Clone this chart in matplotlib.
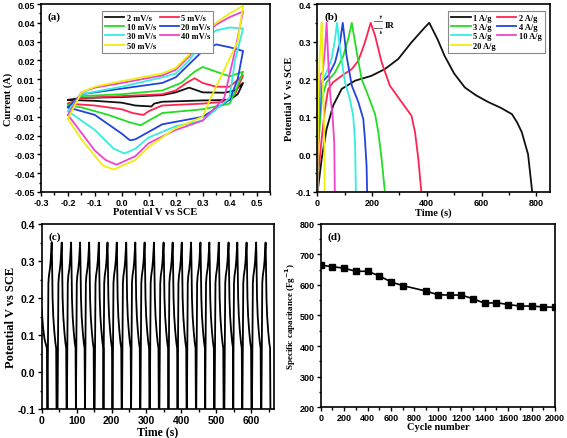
import numpy as np
import matplotlib
matplotlib.use("Agg")
import matplotlib.pyplot as plt
from matplotlib.ticker import MultipleLocator

SERIF = "Liberation Serif"
SANS = "Liberation Sans"

# ---- (a) cyclic voltammetry, forward and reverse sweeps (V, A)
cv_labels = ["2 mV/s", "5 mV/s", "10 mV/s", "20 mV/s", "30 mV/s", "40 mV/s", "50 mV/s"]
cv_colors = ["#111111", "#ff2450", "#22dd22", "#2244dd", "#33eedd", "#ee44cc", "#eeee11"]
cv_fwd_v = [
    [-0.2, -0.15, 0.0, 0.15, 0.2, 0.25, 0.28, 0.3, 0.38, 0.42, 0.45],
    [-0.2, -0.15, 0.0, 0.15, 0.2, 0.24, 0.27, 0.3, 0.35, 0.4, 0.45],
    [-0.2, -0.15, 0.0, 0.15, 0.22, 0.27, 0.3, 0.35, 0.4, 0.45],
    [-0.2, -0.15, 0.0, 0.15, 0.2, 0.25, 0.3, 0.35, 0.4, 0.45],
    [-0.2, -0.15, 0.0, 0.15, 0.2, 0.25, 0.3, 0.35, 0.4, 0.45],
    [-0.2, -0.15, -0.1, 0.0, 0.15, 0.2, 0.25, 0.3, 0.35, 0.4, 0.45],
    [-0.2, -0.15, -0.1, 0.0, 0.15, 0.2, 0.25, 0.3, 0.35, 0.4, 0.45],
]
cv_fwd_i = [
    [-0.001, 0.0, 0.0005, 0.0015, 0.003, 0.0055, 0.004, 0.003, 0.0028, 0.004, 0.008],
    [-0.003, 0.0, 0.001, 0.002, 0.004, 0.008, 0.0105, 0.008, 0.006, 0.006, 0.012],
    [-0.004, 0.001, 0.002, 0.004, 0.008, 0.014, 0.0165, 0.014, 0.0115, 0.014],
    [-0.005, 0.002, 0.005, 0.008, 0.011, 0.018, 0.025, 0.0285, 0.027, 0.025],
    [-0.007, 0.002, 0.006, 0.011, 0.013, 0.02, 0.03, 0.036, 0.0375, 0.037],
    [-0.009, 0.003, 0.0055, 0.008, 0.012, 0.015, 0.022, 0.032, 0.039, 0.043, 0.046],
    [-0.011, 0.003, 0.006, 0.009, 0.013, 0.016, 0.023, 0.033, 0.04, 0.045, 0.049],
]
cv_rev_v = [
    [0.45, 0.43, 0.4, 0.3, 0.15, 0.12, 0.11, 0.05, 0.0, -0.1, -0.2],
    [0.45, 0.42, 0.38, 0.3, 0.15, 0.1, 0.08, 0.04, 0.0, -0.1, -0.2],
    [0.45, 0.42, 0.4, 0.3, 0.15, 0.1, 0.07, 0.03, -0.05, -0.15, -0.2],
    [0.45, 0.43, 0.4, 0.3, 0.15, 0.1, 0.05, 0.03, 0.0, -0.1, -0.2],
    [0.45, 0.42, 0.4, 0.3, 0.2, 0.1, 0.05, 0.01, -0.03, -0.1, -0.2],
    [0.45, 0.42, 0.38, 0.3, 0.2, 0.1, 0.05, -0.02, -0.06, -0.1, -0.2],
    [0.45, 0.43, 0.33, 0.3, 0.2, 0.1, 0.05, -0.03, -0.07, -0.15, -0.2],
]
cv_rev_i = [
    [0.008, 0.002, -0.001, -0.0013, -0.002, -0.003, -0.0045, -0.004, -0.0025, -0.0015, -0.001],
    [0.012, 0.002, -0.002, -0.003, -0.004, -0.007, -0.009, -0.008, -0.006, -0.004, -0.003],
    [0.014, 0.003, -0.003, -0.006, -0.008, -0.012, -0.0145, -0.013, -0.009, -0.005, -0.004],
    [0.025, 0.01, -0.001, -0.01, -0.014, -0.018, -0.022, -0.0225, -0.019, -0.009, -0.005],
    [0.037, 0.02, 0.0, -0.012, -0.015, -0.021, -0.027, -0.0295, -0.027, -0.017, -0.007],
    [0.046, 0.025, 0.0, -0.012, -0.017, -0.024, -0.031, -0.0355, -0.033, -0.028, -0.009],
    [0.049, 0.03, 0.0, -0.01, -0.016, -0.026, -0.033, -0.038, -0.036, -0.022, -0.011],
]

# ---- (b) galvanostatic charge/discharge (s, V)
gcd_labels = ["1 A/g", "2 A/g", "3 A/g", "4 A/g", "5 A/g", "10 A/g", "20 A/g"]
gcd_colors = ["#111111", "#ff2450", "#22dd22", "#2244dd", "#33eedd", "#ee44cc", "#eeee11"]
gcd_t = [
    [0, 4, 16, 34, 58, 89, 138, 198, 247, 296, 344, 393, 409, 440, 465, 500, 539, 580, 625, 670, 711, 730, 747, 770, 785],
    [0, 4, 16, 28, 40, 58, 89, 126, 150, 174, 195, 211, 235, 265, 308, 344, 357, 369, 380],
    [0, 4, 16, 34, 65, 95, 113, 126, 144, 162, 186, 211, 223, 235, 247],
    [0, 4, 16, 40, 65, 83, 93, 107, 126, 150, 168, 174, 180, 182],
    [0, 4, 13, 34, 52, 65, 72, 83, 101, 119, 131, 138, 141],
    [0, 5, 10, 20, 28, 34, 40, 48, 55, 62, 64],
    [0, 4, 8, 12, 16, 19, 22, 25, 27],
]
gcd_v = [
    [-0.1, -0.083, -0.012, 0.068, 0.13, 0.174, 0.196, 0.209, 0.227, 0.254, 0.298, 0.338, 0.35,
     0.305, 0.262, 0.215, 0.178, 0.157, 0.139, 0.124, 0.107, 0.085, 0.059, 0.0, -0.1],
    [-0.1, -0.048, 0.041, 0.121, 0.174, 0.192, 0.209, 0.227, 0.249, 0.298, 0.35,
     0.316, 0.245, 0.183, 0.139, 0.103, 0.059, -0.012, -0.1],
    [-0.1, 0.023, 0.147, 0.192, 0.218, 0.262, 0.307, 0.35, 0.272, 0.2, 0.156, 0.107, 0.059, -0.012, -0.1],
    [-0.1, 0.063, 0.192, 0.209, 0.245, 0.298, 0.35, 0.262, 0.183, 0.139, 0.094, 0.041, -0.03, -0.1],
    [-0.1, 0.09, 0.192, 0.218, 0.254, 0.307, 0.35, 0.28, 0.192, 0.147, 0.103, 0.032, -0.1],
    [-0.1, 0.1, 0.21, 0.22, 0.28, 0.35, 0.25, 0.15, 0.11, 0.03, -0.1],
    [-0.1, 0.15, 0.25, 0.3, 0.35, 0.25, 0.15, 0.08, -0.1],
]

# ---- (c) cycling, one cycle shape, peak times
c_lead_t = [0, 4, 8, 12, 15, 16.5]
c_lead_v = [0.17, 0.12, 0.09, 0.075, 0.065, -0.1]
c_peaks = [28.7, 57.4, 84.2, 110, 136, 163.6, 188.5, 215, 242, 268, 294.7, 321.5,
           349, 375, 401, 427.7, 454.5, 480, 507, 535, 560, 586.6, 614, 641]
c_shape_dt = [-12, -10.5, -9.5, -8, -5, -3, 0, 1, 2.5, 4.5, 7.5, 10.5, 12.8, 13.8]
c_shape_v = [-0.1, 0.12, 0.24, 0.26, 0.28, 0.3, 0.35, 0.3, 0.2, 0.15, 0.11, 0.08, 0.065, -0.1]

# ---- (d) capacitance retention
cycles = [0, 100, 200, 300, 400, 500, 600, 700, 900, 1000, 1100, 1200, 1300,
          1400, 1500, 1600, 1700, 1800, 1900, 2000]
capacitance = [665, 660, 655, 645, 645, 630, 610, 598, 580, 568, 567, 567, 555,
               540, 542, 536, 531, 531, 528, 527]

LEG_ORDER = [0, 2, 4, 6, 1, 3, 5]  # two columns filled row by row


def style_axes(ax, xlabel, ylabel, tag, tick_size=6.5, lab_size=7.5, ylab_size=7.5,
               xpad=0, ypad=1):
    for s in ax.spines.values():
        s.set_linewidth(1.2)
    ax.tick_params(which="both", direction="out", top=False, right=False, width=1,
                   labelsize=tick_size, pad=1.5)
    ax.tick_params(which="major", length=3)
    ax.tick_params(which="minor", length=1.8)
    for lab in ax.get_xticklabels() + ax.get_yticklabels():
        lab.set_fontfamily(SANS)
        lab.set_fontweight("bold")
    ax.set_xlabel(xlabel, fontfamily=SERIF, fontweight="bold", fontsize=lab_size, labelpad=xpad)
    ax.set_ylabel(ylabel, fontfamily=SERIF, fontweight="bold", fontsize=ylab_size, labelpad=ypad)
    ax.text(0.03, 0.96, tag, transform=ax.transAxes, ha="left", va="top",
            fontfamily=SERIF, fontweight="bold", fontsize=8)


def add_legend(ax, lines, labels, **kw):
    leg = ax.legend([lines[i] for i in LEG_ORDER], [labels[i] for i in LEG_ORDER],
                    ncol=2, prop={"family": SERIF, "weight": "bold", "size": 6},
                    handlelength=2.3, handletextpad=0.3, labelspacing=0.15,
                    borderpad=0.35, fancybox=False, framealpha=1, **kw)
    leg.get_frame().set_edgecolor("#888888")
    leg.get_frame().set_linewidth(0.8)


fig = plt.figure(figsize=(5.67, 4.39), dpi=100)

# (a)
ax = fig.add_axes([0.0723, 0.5604, 0.4039, 0.4282])
lines = []
for k in range(len(cv_labels)):
    xs = cv_fwd_v[k] + cv_rev_v[k]
    ys = cv_fwd_i[k] + cv_rev_i[k]
    lines += ax.plot(xs, ys, color=cv_colors[k], lw=1.3)
ax.set_xlim(-0.3, 0.55)
ax.set_ylim(-0.05, 0.05)
ax.set_xticks(np.arange(-0.3, 0.51, 0.1))
ax.set_xticklabels(["-0.3", "-0.2", "-0.1", "0.0", "0.1", "0.2", "0.3", "0.4", "0.5"])
ax.set_yticks(np.arange(-0.05, 0.051, 0.01))
ax.set_yticklabels(["%.2f" % v for v in np.arange(-0.05, 0.051, 0.01)])
ax.xaxis.set_minor_locator(MultipleLocator(0.05))
ax.yaxis.set_minor_locator(MultipleLocator(0.005))
style_axes(ax, "Potential V vs SCE", "Current (A)", "(a)")
add_legend(ax, lines, cv_labels, loc="upper left", bbox_to_anchor=(0.25, 0.985),
           columnspacing=0.4)

# (b)
ax = fig.add_axes([0.5596, 0.5604, 0.4104, 0.4282])
lines = []
for k in range(len(gcd_labels)):
    lines += ax.plot(gcd_t[k], gcd_v[k], color=gcd_colors[k], lw=1.3)
ax.set_xlim(0, 850)
ax.set_ylim(-0.1, 0.4)
ax.set_xticks([0, 200, 400, 600, 800])
ax.set_yticks([-0.1, 0.0, 0.1, 0.2, 0.3, 0.4])
ax.set_yticklabels(["-0.1", "0.0", "0.1", "0.2", "0.3", "0.4"])
ax.xaxis.set_minor_locator(MultipleLocator(100))
ax.yaxis.set_minor_locator(MultipleLocator(0.05))
style_axes(ax, "Time (s)", "Potential V vs SCE", "(b)")
# IR drop marker near the 2 A/g peak
ax.plot([208, 238], [0.354, 0.354], color="#555555", lw=0.6)
ax.plot([208, 238], [0.336, 0.336], color="#555555", lw=0.6)
ax.annotate("", xy=(232, 0.354), xytext=(232, 0.37),
            arrowprops=dict(arrowstyle="-|>", lw=0.5, color="#333333", mutation_scale=3))
ax.annotate("", xy=(232, 0.336), xytext=(232, 0.32),
            arrowprops=dict(arrowstyle="-|>", lw=0.5, color="#333333", mutation_scale=3))
ax.text(246, 0.345, "IR", fontfamily=SERIF, fontweight="bold", fontsize=6.5, va="center")
add_legend(ax, lines, gcd_labels, loc="upper right", bbox_to_anchor=(0.995, 0.985),
           columnspacing=0.2)

# (c)
ax = fig.add_axes([0.0735, 0.0655, 0.4097, 0.422])
ts = list(c_lead_t)
vs = list(c_lead_v)
for p in c_peaks:
    ts += [p + d for d in c_shape_dt]
    vs += c_shape_v
ax.plot(ts, vs, color="black", lw=1.3)
ax.set_xlim(0, 665)
ax.set_ylim(-0.1, 0.4)
ax.set_xticks([0, 100, 200, 300, 400, 500, 600])
ax.set_yticks([-0.1, 0.0, 0.1, 0.2, 0.3, 0.4])
ax.set_yticklabels(["-0.1", "0.0", "0.1", "0.2", "0.3", "0.4"])
ax.xaxis.set_minor_locator(MultipleLocator(50))
ax.yaxis.set_minor_locator(MultipleLocator(0.05))
style_axes(ax, "Time (s)", "Potential V vs SCE", "(c)", tick_size=7.5, lab_size=8.5,
           ylab_size=9, xpad=0, ypad=0.5)

# (d)
ax = fig.add_axes([0.5656, 0.0706, 0.4132, 0.4169])
ax.plot(cycles, capacitance, color="black", lw=1.2, marker="s", ms=4)
ax.set_xlim(0, 2000)
ax.set_ylim(200, 800)
ax.set_xticks(np.arange(0, 2001, 200))
ax.set_yticks(np.arange(200, 801, 100))
ax.xaxis.set_minor_locator(MultipleLocator(100))
ax.yaxis.set_minor_locator(MultipleLocator(50))
style_axes(ax, "Cycle number", r"Specific capacitance (Fg$^{\mathbf{-1}}$)", "(d)",
           ylab_size=6.5)

fig.savefig("out.png", dpi=100)
